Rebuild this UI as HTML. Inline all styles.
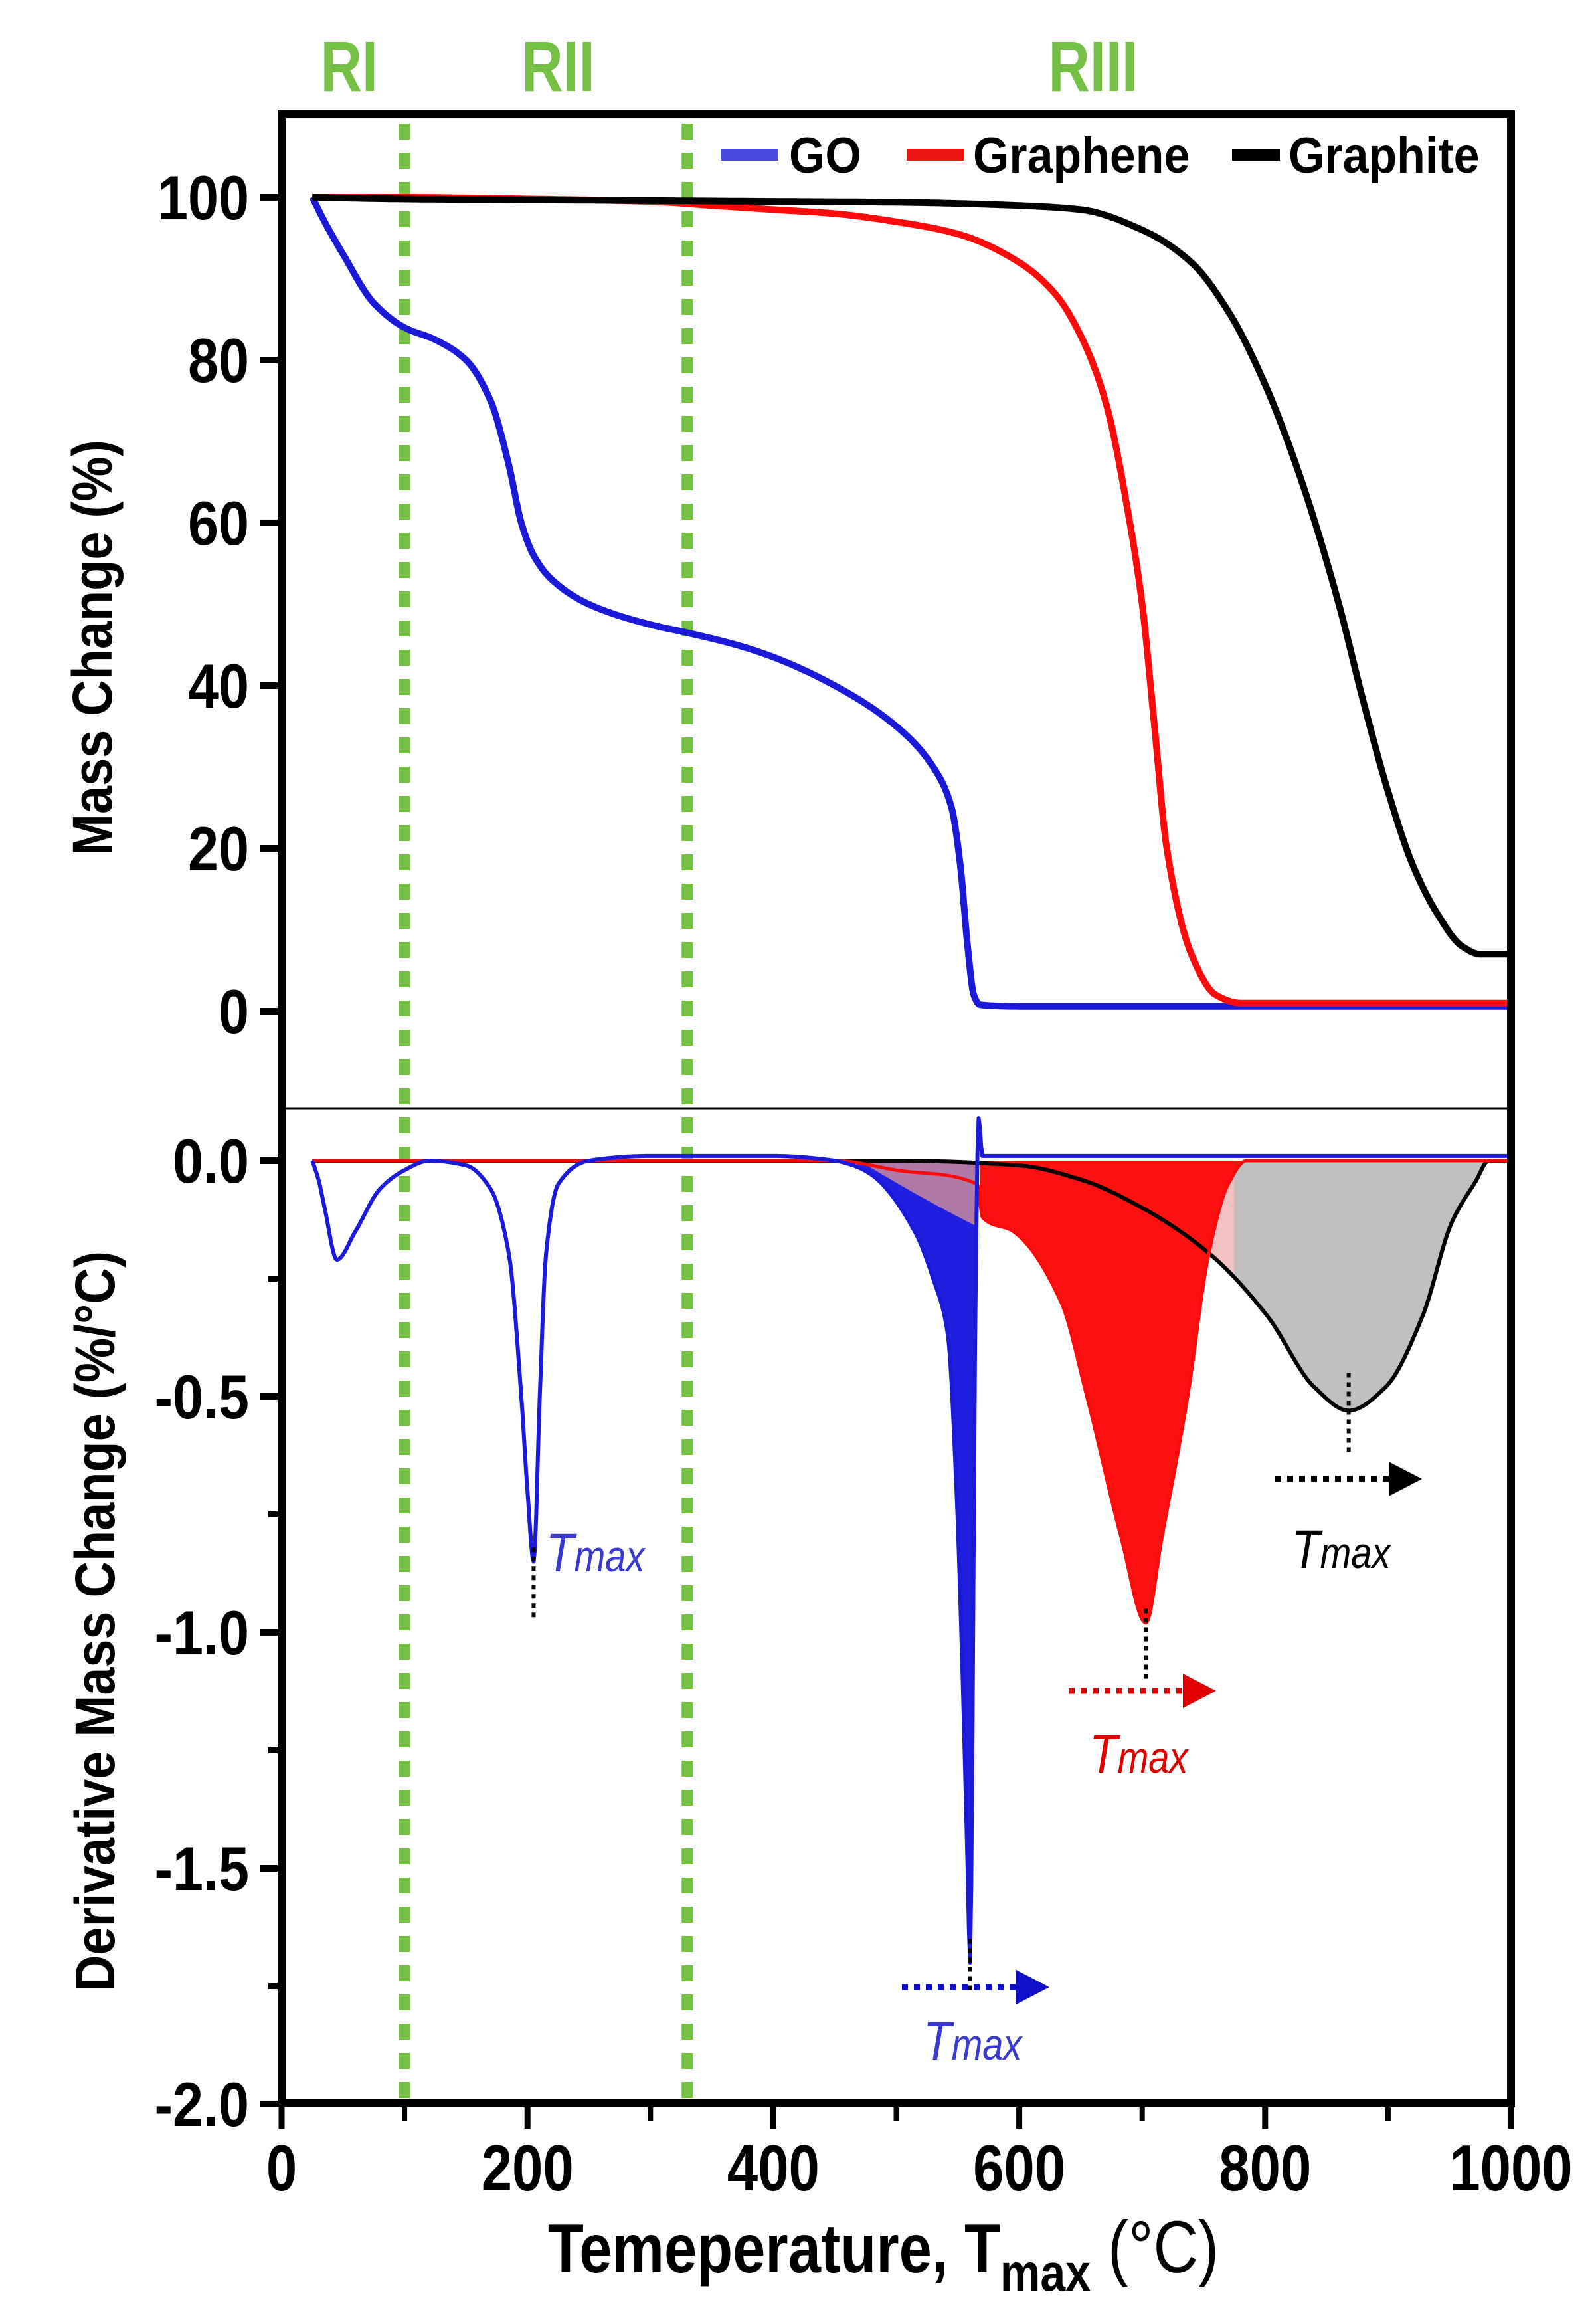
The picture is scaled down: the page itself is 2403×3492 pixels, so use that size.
<!DOCTYPE html>
<html><head><meta charset="utf-8"><style>
html,body{margin:0;padding:0;background:#fff;}
svg{display:block;}
text{font-family:"Liberation Sans",Arial,sans-serif;}
</style></head><body>
<svg id="chart" width="2403" height="3492" viewBox="0 0 2403 3492" xmlns="http://www.w3.org/2000/svg">
<rect x="0" y="0" width="2403" height="3492" fill="#fff"/>
<g id="regions"></g>
<g id="fills"></g>
<g id="lines"></g>
<g id="axes"></g>
<g id="annot"></g>
</svg>
<script>
// ---- data ----
const goTempTop = [25,35,50,75,100,125,150,170,185,195,205,220,250,300,330,370,400,450,500,530,545,552,558,563,568,600,700,800,900,1000];
const goMass    = [100,97,93,87,84,82.5,80,75,67,60,56,53,50,47.5,46.5,45,43.5,40,35,30,25,18,8,2,0.8,0.6,0.6,0.6,0.6,0.6];
const grapheneTempTop = [25,100,200,300,350,400,450,500,550,600,630,650,670,690,700,710,720,740,760,780,850,1000];
const grapheneMass    = [100,100,99.8,99.5,99,98.5,98,97,95.5,92,88,83,75,60,50,35,20,7,2,1,1,1];
const graphiteTempTop = [25,100,200,300,400,500,600,650,700,740,770,800,830,860,880,900,920,940,960,975,1000];
const graphiteMass    = [100,99.8,99.7,99.6,99.5,99.4,99,98.5,96,92,86,77,65,50,38,27,18,12,8,7,7];

const goTempD = [25,30,35,45,60,80,100,120,150,170,185,195,200,205,210,215,225,250,300,400,450,465,480,515,530,542,549,554,558,560,562,564,567,570,600,700,800,900,1000];
const goDeriv = [0,-0.04,-0.1,-0.21,-0.15,-0.06,-0.02,0,-0.01,-0.06,-0.2,-0.5,-0.7,-0.85,-0.5,-0.2,-0.05,0,0.01,0.01,0,-0.01,-0.03,-0.15,-0.25,-0.37,-0.7,-1.1,-1.5,-1.7,-1.2,-0.4,0.09,0.01,0.01,0.01,0.01,0.01,0.01];
const grapheneTempD = [25,450,500,566,570,595,634,655,683,703,716,737,754,770,785,1000];
const grapheneDeriv = [0,0,-0.02,-0.05,-0.12,-0.15,-0.3,-0.5,-0.8,-0.98,-0.8,-0.5,-0.2,-0.05,0,0];
const graphiteTempD = [25,500,600,650,700,756,802,840,868,898,928,952,971,982,1000];
const graphiteDeriv = [0,0,-0.01,-0.04,-0.1,-0.2,-0.33,-0.48,-0.53,-0.48,-0.33,-0.13,-0.045,0,0];

const xTicks = [0,200,400,600,800,1000];
const xMinor = [100,300,500,700,900];
const yTopTicks = [0,20,40,60,80,100];
const yBotTicks = [0.0,-0.5,-1.0,-1.5,-2.0];
const yBotMinor = [-0.25,-0.75,-1.25,-1.75];
const regionBounds = [100,330];
const regionLabels = ["RI","RII","RIII"];
const regionLabelT = [55,225,660];
const tmaxGO = 560, tmaxGO2 = 205, tmaxGraphene = 703, tmaxGraphite = 868;

// ---- scales ----
const X0=424, X1=2275, TOP=172, BOT=3166, DIV=1668;
const sx = t => X0 + (t/1000)*(X1-X0);
const syTop = m => 1522 - m*12.25;
const syBot = d => 1747 - d*710;
const NS='http://www.w3.org/2000/svg';
function mk(tag, parent, attrs){const e=document.createElementNS(NS,tag);for(const k in attrs)e.setAttribute(k,attrs[k]);document.getElementById(parent).appendChild(e);return e;}
// monotone cubic (Fritsch-Carlson) tangents
function tangents(xs,ys){
  const n=xs.length,d=[],m=new Array(n).fill(0);
  for(let i=0;i<n-1;i++)d.push((ys[i+1]-ys[i])/(xs[i+1]-xs[i]));
  m[0]=d[0];m[n-1]=d[n-2];
  for(let i=1;i<n-1;i++){ if(d[i-1]*d[i]<=0)m[i]=0; else {const w1=2*(xs[i+1]-xs[i])+(xs[i]-xs[i-1]),w2=(xs[i+1]-xs[i])+2*(xs[i]-xs[i-1]);m[i]=(w1+w2)/(w1/d[i-1]+w2/d[i]);} }
  return m;
}
function evalM(xs,ys,m,t){
  if(t<=xs[0])return ys[0];
  for(let i=1;i<xs.length;i++){ if(t<=xs[i]){const h=xs[i]-xs[i-1],s=(t-xs[i-1])/h,s2=s*s,s3=s2*s;
    return (2*s3-3*s2+1)*ys[i-1]+(s3-2*s2+s)*h*m[i-1]+(-2*s3+3*s2)*ys[i]+(s3-s2)*h*m[i];}}
  return ys[ys.length-1];
}
function pathOf(xs,ys,fy){
  const m=tangents(xs,ys);let d='';
  for(let t=xs[0];t<=xs[xs.length-1];t+=1){d+=(d?' L':'M')+sx(t).toFixed(1)+','+fy(evalM(xs,ys,m,t)).toFixed(1);}
  return d;
}
function areaOf(xs,ys,a,b){const m=tangents(xs,ys);let d='M'+sx(a).toFixed(1)+','+syBot(0).toFixed(1);for(let t=a;t<=b;t+=1){d+=' L'+sx(t).toFixed(1)+','+syBot(evalM(xs,ys,m,t)).toFixed(1);}d+=' L'+sx(b).toFixed(1)+','+syBot(0).toFixed(1)+' Z';return d;}

// ---- region dashed lines ----
regionBounds.forEach((t,i)=>{
  const l=mk('line','regions',{x1:sx(t),x2:sx(t),y1:TOP+14,y2:BOT-6,stroke:'#74c045','stroke-width':17,'stroke-dasharray':'24 20'});
  
  
});
regionLabels.forEach((s,i)=>{
  const tx=mk('text','regions',{x:sx(regionLabelT[i]),y:137,'text-anchor':'middle','font-size':108,'font-weight':'bold',fill:'#74c045',transform:'translate('+sx(regionLabelT[i])+',0) scale(0.8,1) translate('+(-sx(regionLabelT[i]))+',0)'});
  tx.textContent=s;
  
  
});

// ---- fills (derivative) ----
let f;
f=mk('path','fills',{d:areaOf(goTempD,goDeriv,468,566),fill:'#2020e0'});


f=mk('path','fills',{d:'M'+sx(470)+','+syBot(0)+' L'+sx(566)+','+syBot(0)+' L'+sx(566)+','+syBot(-0.14)+' Q'+sx(520)+','+syBot(-0.08)+' '+sx(470)+','+syBot(0)+' Z',fill:'#b07aa8'});


f=mk('path','fills',{d:areaOf(graphiteTempD,graphiteDeriv,640,985),fill:'#c0c0c0'});


f=mk('path','fills',{d:areaOf(graphiteTempD,graphiteDeriv,640,775),fill:'#f2c0c0'});


f=mk('path','fills',{d:areaOf(grapheneTempD,grapheneDeriv,568,785),fill:'#ff1010'});



// ---- lines ----
const series=[
 [goTempTop,goMass,syTop,'#1a1ad8',10,'go-mass-line'],
 [grapheneTempTop,grapheneMass,syTop,'#ff0a0a',10,'graphene-mass-line'],
 [graphiteTempTop,graphiteMass,syTop,'#000',10,'graphite-mass-line'],
 [graphiteTempD,graphiteDeriv,syBot,'#000',6,'graphite-deriv-line'],
 [grapheneTempD,grapheneDeriv,syBot,'#ff0a0a',5,'graphene-deriv-line'],
 [goTempD,goDeriv,syBot,'#1a1ad8',6,'go-deriv-line']
];
series.forEach(s=>{
  const p=mk('path','lines',{d:pathOf(s[0],s[1],s[2]),fill:'none',stroke:s[3],'stroke-width':s[4],'stroke-linejoin':'round'});
  
  
});

// ---- axes ----
let a;
a=mk('rect','axes',{x:X0,y:TOP,width:X1-X0,height:BOT-TOP,fill:'none',stroke:'#000','stroke-width':12});


a=mk('line','axes',{x1:X0,x2:X1,y1:DIV,y2:DIV,stroke:'#000','stroke-width':3});


xTicks.forEach(t=>{
  a=mk('line','axes',{x1:sx(t),x2:sx(t),y1:BOT,y2:BOT+38,stroke:'#000','stroke-width':9});
  
  
  a=mk('text','axes',{x:sx(t),y:3297,'text-anchor':'middle','font-size':98,'font-weight':'bold',fill:'#000',transform:'translate('+sx(t)+',0) scale(0.85,1) translate('+(-sx(t))+',0)'});
  a.textContent=String(t);
  
  
});
xMinor.forEach(t=>{
  a=mk('line','axes',{x1:sx(t),x2:sx(t),y1:BOT,y2:BOT+26,stroke:'#000','stroke-width':8});
  
  
});
yTopTicks.forEach(v=>{
  a=mk('line','axes',{x1:X0-32,x2:X0,y1:syTop(v),y2:syTop(v),stroke:'#000','stroke-width':10});
  
  
  a=mk('text','axes',{x:375,y:syTop(v)+33,'text-anchor':'end','font-size':94,'font-weight':'bold',fill:'#000',transform:'translate(375,0) scale(0.88,1) translate(-375,0)'});
  a.textContent=String(v);
  
  
});
yBotTicks.forEach(v=>{
  a=mk('line','axes',{x1:X0-32,x2:X0,y1:syBot(v),y2:syBot(v),stroke:'#000','stroke-width':10});
  
  
  a=mk('text','axes',{x:375,y:syBot(v)+33,'text-anchor':'end','font-size':94,'font-weight':'bold',fill:'#000',transform:'translate(375,0) scale(0.88,1) translate(-375,0)'});
  a.textContent=(v===0?'0.0':v.toFixed(1));
  
  
});
yBotMinor.forEach(v=>{
  a=mk('line','axes',{x1:X0-20,x2:X0,y1:syBot(v),y2:syBot(v),stroke:'#000','stroke-width':9});
  
  
});
a=mk('text','axes',{x:0,y:0,'text-anchor':'middle','font-size':84,'font-weight':'bold',fill:'#000',transform:'translate(168,975) rotate(-90) scale(0.9,1)'});
a.textContent='Mass Change (%)';


a=mk('text','axes',{x:0,y:0,'text-anchor':'middle','font-size':84,'font-weight':'bold',fill:'#000',transform:'translate(172,2440) rotate(-90) scale(0.9,1)'});
a.textContent='Derivative Mass Change (%/°C)';


a=mk('text','axes',{x:0,y:0,'text-anchor':'middle','font-size':104,'font-weight':'bold',fill:'#000',transform:'translate(1330,3420) scale(0.85,1)'});
a.innerHTML='Temeperature, T<tspan font-size="80" dy="28">max</tspan><tspan dy="-28" font-weight="normal" font-size="110"> (°C)</tspan>';



// ---- legend ----
const legNames=['GO','Graphene','Graphite'];
const legColors=['#4a4ae0','#ee1515','#000'];
const legLineX=[1086,1365,1855];
const legTextX=[1188,1465,1940];
legNames.forEach((n,i)=>{
  a=mk('rect','axes',{x:legLineX[i],y:224,width:(i==2?72:86),height:18,fill:legColors[i]});
  
  
  a=mk('text','axes',{x:legTextX[i],y:260,'font-size':76,'font-weight':'bold',fill:'#000',transform:'translate('+legTextX[i]+',0) scale(0.92,1) translate('+(-legTextX[i])+',0)'});
  a.textContent=n;
  
  
});

// ---- annotations ----
function dotted(t,d1,d2,color){const l=mk('line','annot',{x1:sx(t),x2:sx(t),y1:syBot(d1),y2:syBot(d2),stroke:color,'stroke-width':6,'stroke-dasharray':'7 7'});}
function arrow(x1,x2,y,color,name){
  const l=mk('line','annot',{x1:x1,x2:x2-40,y1:y,y2:y,stroke:color,'stroke-width':9,'stroke-dasharray':'9 9'});
  
  
  const p=mk('polygon','annot',{points:(x2-50)+','+(y-26)+' '+x2+','+y+' '+(x2-50)+','+(y+26),fill:color});
  
  
}
function tlabel(x,y,color,name){const t=mk('text','annot',{x:x,y:y,'font-size':82,'font-style':'italic',fill:color,transform:'translate('+x+',0) scale(0.85,1) translate('+(-x)+',0)'});t.innerHTML='T<tspan font-size="66">max</tspan>';}
dotted(tmaxGO2,-0.82,-0.97,'#000');
dotted(tmaxGraphite,-0.45,-0.62,'#000');
dotted(tmaxGraphene,-0.95,-1.1,'#000');
dotted(tmaxGO,-1.65,-1.76,'#000');
tlabel(822,2365,'#3a3ad0','tmax-label-go-1');
arrow(1920,2141,2226,'#000','graphite');
tlabel(1945,2360,'#000','tmax-label-graphite');
arrow(1609,1831,2545,'#e00000','graphene');
tlabel(1640,2668,'#e00000','tmax-label-graphene');
arrow(1358,1580,2991,'#1010c8','go');
tlabel(1390,3100,'#3a3ad0','tmax-label-go-2');
</script>
</body></html>
